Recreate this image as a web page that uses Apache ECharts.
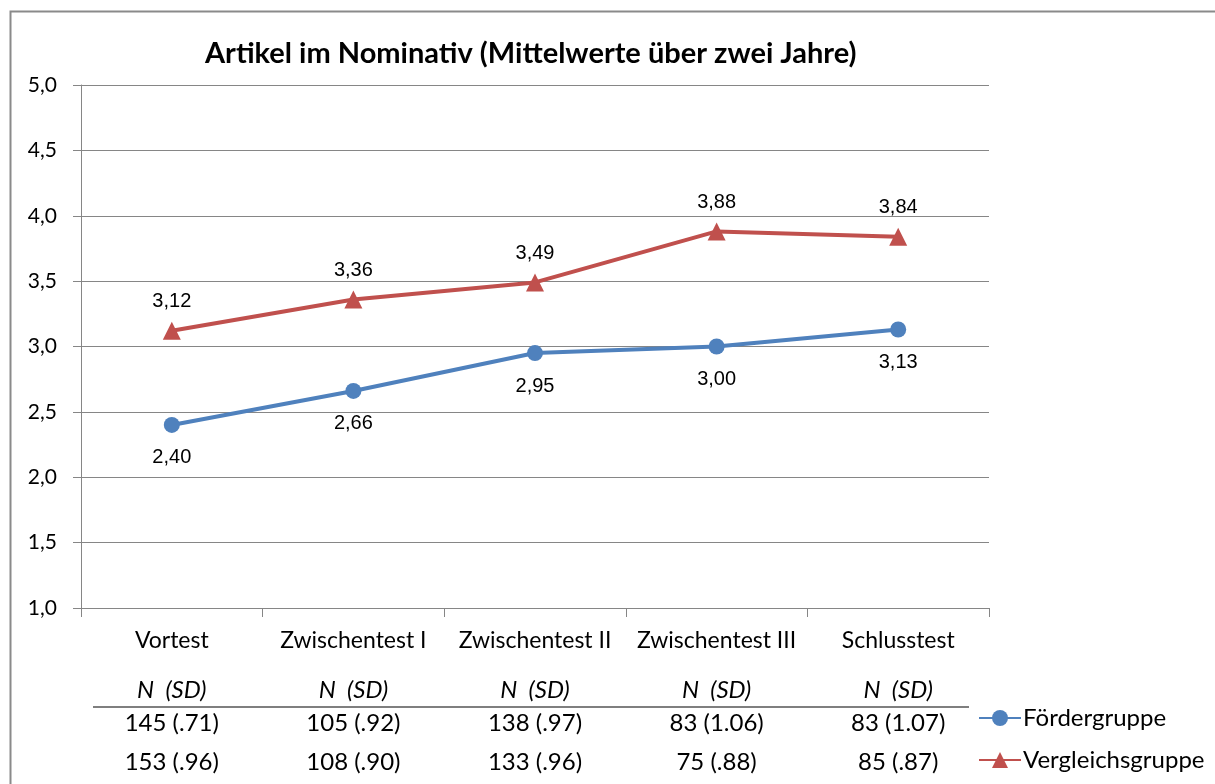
<!DOCTYPE html>
<html><head><meta charset="utf-8">
<script src="https://cdn.jsdelivr.net/npm/echarts@6/dist/echarts.min.js"></script>
<style>html,body{margin:0;padding:0;background:#fff}#c{width:1215px;height:784px}</style>
</head><body><div id="c"></div>
<script>
const titleText = 'Artikel im Nominativ (Mittelwerte über zwei Jahre)';
const categories = ['Vortest', 'Zwischentest I', 'Zwischentest II', 'Zwischentest III', 'Schlusstest'];
const seriesNames = ['Fördergruppe', 'Vergleichsgruppe'];
const foerderValues = [2.40, 2.66, 2.95, 3.00, 3.13];
const vergleichValues = [3.12, 3.36, 3.49, 3.88, 3.84];
const foerderNSD = ['145 (.71)', '105 (.92)', '138 (.97)', '83 (1.06)', '83 (1.07)'];
const vergleichNSD = ['153 (.96)', '108 (.90)', '133 (.96)', '75 (.88)', '85 (.87)'];
const tableHeader = 'N  (SD)';
const yTicks = { min: 1, max: 5, interval: 0.5 };

const FONT = 'Lato, "Open Sans", sans-serif';
const LABFONT = '"Liberation Sans", Arial, sans-serif';
const fmt = v => v.toFixed(2).replace('.', ',');

const chart = echarts.init(document.getElementById('c'));
function extraAxis(formatter, margin, style) {
  return {
    type: 'category', data: categories, position: 'bottom', boundaryGap: true,
    axisLine: { show: false }, axisTick: { show: false }, splitLine: { show: false },
    axisLabel: Object.assign({ formatter: formatter, margin: margin, fontSize: 24, color: '#000', fontFamily: FONT, interval: 0 }, style || {})
  };
}
chart.setOption({
  animation: false,
  backgroundColor: '#fff',
  title: {
    text: titleText, left: 200, top: 34,
    textStyle: { fontSize: 29, fontWeight: 'bold', color: '#000', fontFamily: FONT }
  },
  grid: { left: 81, right: 226, top: 85, bottom: 176, containLabel: false },
  legend: {
    orient: 'vertical', left: 973, top: 701, itemGap: 18, itemWidth: 42, itemHeight: 20,
    textStyle: { fontSize: 24, color: '#000', fontFamily: FONT, padding: [0, 0, 0, -3] },
    data: seriesNames
  },
  xAxis: [
    {
      type: 'category', data: categories, boundaryGap: true,
      axisLine: { lineStyle: { color: '#868686', width: 1 } },
      axisTick: { show: true, length: 9, lineStyle: { color: '#868686' } },
      axisLabel: { fontSize: 23, color: '#000', fontFamily: FONT, margin: 21, interval: 0 }
    },
    extraAxis(() => tableHeader, 70, { fontStyle: 'italic' }),
    extraAxis((v, i) => foerderNSD[i], 103),
    extraAxis((v, i) => vergleichNSD[i], 142)
  ],
  yAxis: {
    type: 'value', min: yTicks.min, max: yTicks.max, interval: yTicks.interval,
    axisLine: { show: true, lineStyle: { color: '#868686', width: 1 } },
    axisTick: { show: true, length: 8, lineStyle: { color: '#868686' } },
    axisLabel: { fontSize: 21, color: '#000', fontFamily: FONT, margin: 24, formatter: v => v.toFixed(1).replace('.', ',') },
    splitLine: { lineStyle: { color: '#868686', width: 1 } }
  },
  series: [
    {
      name: seriesNames[0], type: 'line', data: foerderValues, xAxisIndex: 0,
      symbol: 'circle', symbolSize: 16,
      lineStyle: { color: '#4F81BD', width: 4 }, itemStyle: { color: '#4F81BD' },
      label: { show: true, position: 'bottom', distance: 15, fontSize: 20, color: '#000', fontFamily: LABFONT, formatter: p => fmt(p.value) }
    },
    {
      name: seriesNames[1], type: 'line', data: vergleichValues, xAxisIndex: 0,
      symbol: 'triangle', symbolSize: 18,
      lineStyle: { color: '#C0504D', width: 4 }, itemStyle: { color: '#C0504D' },
      label: { show: true, position: 'top', distance: 10, fontSize: 20, color: '#000', fontFamily: LABFONT, formatter: p => fmt(p.value) }
    }
  ],
  graphic: [
    { type: 'rect', left: 8, top: 9, shape: { width: 1300, height: 900 }, style: { fill: 'none', stroke: '#8a8a8a', lineWidth: 2 }, silent: true },
    { type: 'line', shape: { x1: 93, y1: 707, x2: 969, y2: 707 }, style: { stroke: '#7f7f7f', lineWidth: 2 }, silent: true }
  ]
});
</script></body></html>
